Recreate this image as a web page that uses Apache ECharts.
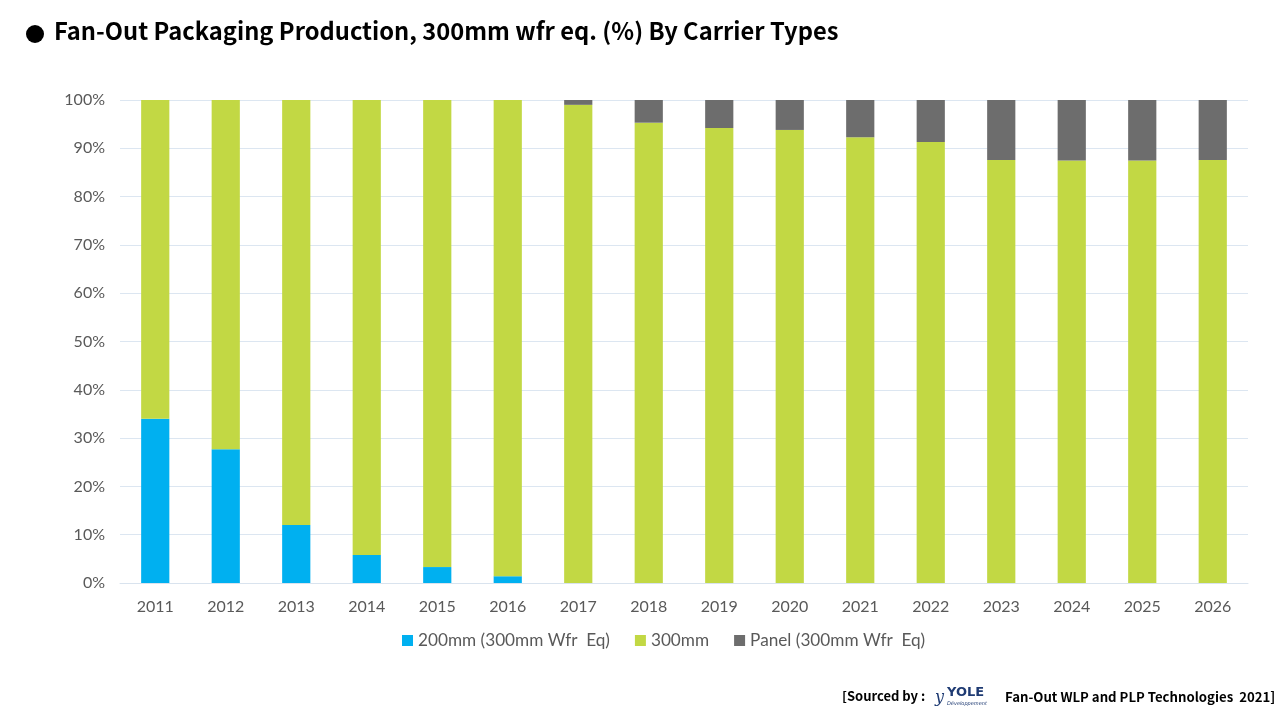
<!DOCTYPE html>
<html><head><meta charset="utf-8">
<script src="https://cdn.jsdelivr.net/npm/echarts@6/dist/echarts.min.js"></script>
<style>html,body{margin:0;padding:0;background:#fff}#c{width:1280px;height:720px}</style>
</head><body><div id="c"></div>
<script>
const categories = ['2011','2012','2013','2014','2015','2016','2017','2018','2019','2020','2021','2022','2023','2024','2025','2026'];
const s200 = [34.0, 27.7, 12.0, 5.8, 3.3, 1.4, 0, 0, 0, 0, 0, 0, 0, 0, 0, 0];
const sPanel = [0, 0, 0, 0, 0, 0, 1.0, 4.7, 5.8, 6.2, 7.7, 8.7, 12.4, 12.5, 12.5, 12.4];
const s300 = categories.map((c, i) => +(100 - s200[i] - sPanel[i]).toFixed(1));
const seriesNames = ['200mm (300mm Wfr  Eq)', '300mm', 'Panel (300mm Wfr  Eq)'];
const yTicks = [0, 10, 20, 30, 40, 50, 60, 70, 80, 90, 100];

const chart = echarts.init(document.getElementById('c'));
const axisFont = 'Lato, "Open Sans", sans-serif';
chart.setOption({
  animation: false,
  grid: {left: 120, right: 32, top: 100, bottom: 137},
  legend: {
    bottom: 66, left: 397, itemWidth: 11, itemHeight: 11, itemGap: 25,
    icon: 'rect',
    textStyle: {color: '#595959', fontSize: 17.2, fontFamily: axisFont},
    data: seriesNames
  },
  xAxis: {
    type: 'category', data: categories,
    axisTick: {show: false},
    axisLine: {lineStyle: {color: '#d9e3ee'}},
    axisLabel: {color: '#595959', fontSize: 16, margin: 16, fontFamily: axisFont}
  },
  yAxis: {
    type: 'value', min: yTicks[0], max: yTicks[yTicks.length - 1], interval: 10,
    axisLabel: {color: '#595959', fontSize: 16, margin: 15, fontFamily: axisFont, formatter: v => v + '%'},
    splitLine: {lineStyle: {color: '#dce6f1', width: 1}},
    axisLine: {show: false}, axisTick: {show: false}
  },
  series: [
    {name: seriesNames[0], type: 'bar', stack: 'a', data: s200, barWidth: '40%', itemStyle: {color: '#00b0f0'}},
    {name: seriesNames[1], type: 'bar', stack: 'a', data: s300, barWidth: '40%', itemStyle: {color: '#c2d844'}},
    {name: seriesNames[2], type: 'bar', stack: 'a', data: sPanel, barWidth: '40%', itemStyle: {color: '#6d6d6d'}}
  ],
  graphic: [
    {type: 'circle', shape: {cx: 35, cy: 34, r: 9}, style: {fill: '#000'}},
    {type: 'text', left: 54, top: 19, style: {text: 'Fan-Out Packaging Production, 300mm wfr eq. (%) By Carrier Types', fill: '#000', font: 'bold 23.7px "Noto Sans CJK KR", "Noto Sans", sans-serif'}},
    {type: 'text', left: 842, top: 690, style: {text: '[Sourced by :', fill: '#000', font: 'bold 13px "Noto Sans CJK KR", sans-serif'}},
    {type: 'text', left: 947, top: 686, style: {text: 'YOLE', fill: '#1f3b73', font: 'bold 13px "DejaVu Sans", sans-serif'}},
    {type: 'text', left: 947, top: 701, style: {text: 'Développement', fill: '#1f3b73', font: 'italic 5px "DejaVu Sans", sans-serif'}},
    {type: 'text', left: 935, top: 690, style: {text: 'y', fill: '#1f3b73', font: 'italic 16px "DejaVu Serif", serif'}},
    {type: 'text', left: 1005, top: 690, style: {text: 'Fan-Out WLP and PLP Technologies  2021]', fill: '#000', font: 'bold 13.2px "Noto Sans CJK KR", sans-serif'}}
  ]
});
</script></body></html>
